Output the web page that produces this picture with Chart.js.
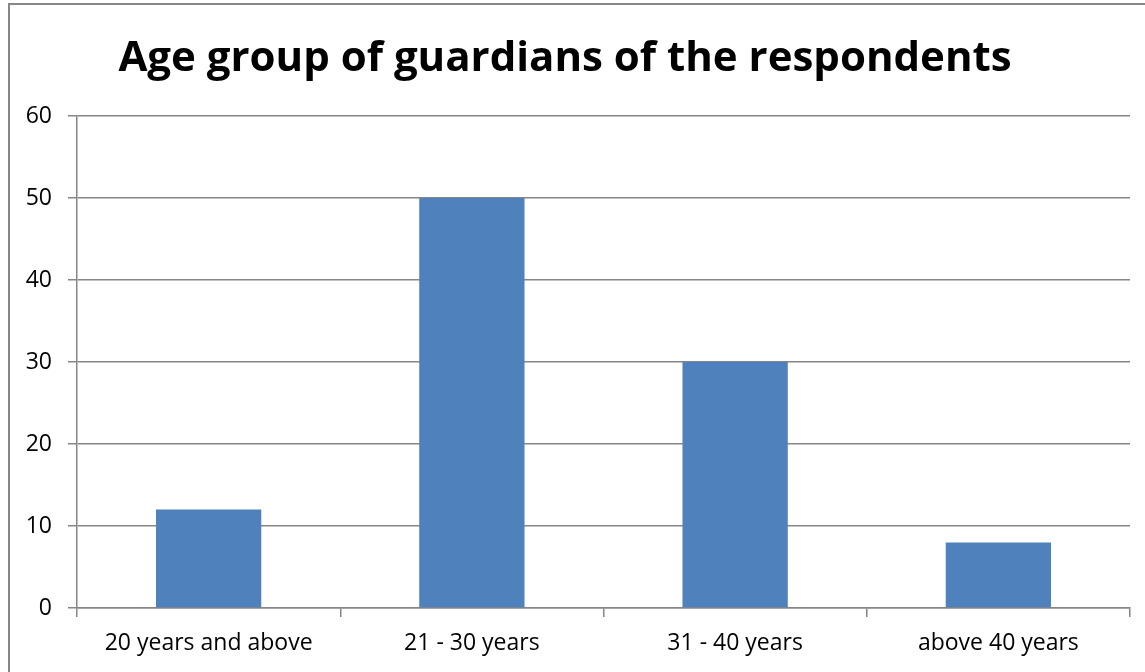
<!DOCTYPE html>
<html>
<head>
<meta charset="utf-8">
<title>Age group of guardians</title>
<script src="https://cdn.jsdelivr.net/npm/chart.js@4"></script>
<style>
  html, body { margin: 0; padding: 0; background: #fff; }
  #wrap { position: relative; width: 1145px; height: 672px; }
</style>
</head>
<body>
<div id="wrap"><canvas id="graficoEdades"></canvas></div>
<script>
// Datos del gráfico
const categorias = ["20 years and above", "21 - 30 years", "31 - 40 years", "above 40 years"];
const valores = [12, 50, 30, 8];
const titulo = "Age group of guardians of the respondents";

const gris = "#868686";
const fuente = "Open Sans";

// Marco exterior del gráfico (izquierda y arriba)
const marco = {
    id: "marco",
    beforeDraw(chart) {
        const ctx = chart.ctx;
        ctx.save();
        ctx.strokeStyle = gris;
        ctx.lineWidth = 2;
        ctx.beginPath();
        ctx.moveTo(9, chart.height + 2);
        ctx.lineTo(9, 4);
        ctx.lineTo(chart.width + 2, 4);
        ctx.stroke();
        ctx.restore();
    }
};

new Chart(document.getElementById("graficoEdades"), {
    type: "bar",
    data: {
        labels: categorias,
        datasets: [{
            data: valores,
            backgroundColor: "#4F81BD",
            borderWidth: 0,
            categoryPercentage: 1.0,
            barPercentage: 0.4
        }]
    },
    options: {
        responsive: true,
        maintainAspectRatio: false,
        animation: false,
        layout: { padding: { left: 0, right: 15, top: 0, bottom: 0 } },
        plugins: {
            legend: { display: false },
            tooltip: { enabled: false },
            title: {
                display: true,
                text: titulo,
                color: "#000",
                font: { family: fuente, size: 42, weight: "bold", lineHeight: 1.2 },
                padding: { top: 34, bottom: 31.6 }
            }
        },
        scales: {
            x: {
                grid: { offset: true, drawOnChartArea: false, drawTicks: true, tickLength: 9, color: gris, lineWidth: 1.5 },
                border: { display: true, color: gris, width: 1.5 },
                ticks: { color: "#000", font: { family: fuente, size: 23 }, padding: 13 },
                afterFit(scale) { scale.height = 64; }
            },
            y: {
                min: 0,
                max: 60,
                ticks: { stepSize: 10, color: "#000", font: { family: fuente, size: 23 }, padding: 16 },
                grid: { drawTicks: true, tickLength: 9, color: gris, lineWidth: 1.5 },
                border: { display: true, color: gris, width: 1.5 },
                afterFit(scale) { scale.width = 77; }
            }
        }
    },
    plugins: [marco]
});
</script>
</body>
</html>
